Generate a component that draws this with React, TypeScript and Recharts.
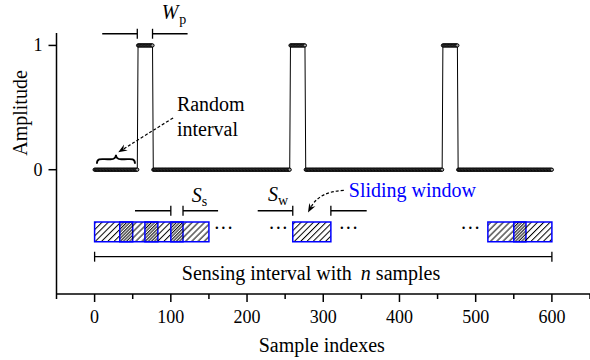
import React from "react";
import {
  LineChart, Line, XAxis, YAxis, ReferenceLine, ReferenceArea, ReferenceDot,
} from "recharts";

const FONT = '"Liberation Serif", "Times New Roman", "DejaVu Serif", serif';
const BLUE = "#0000ff";

// signal: 601 samples, three unit pulses of 20 samples
const sampleCount = 601;
const pulseStarts = [57, 257, 457];
const pulseWidth = 20;

const xTicks = [-50, 0, 50, 100, 150, 200, 250, 300, 350, 400, 450, 500, 550, 600, 650];
const yTicks = [0, 1];

// sliding windows [from, to], in samples
const windowStarts = [0, 33, 66, 100, 260, 516, 550];
const windowEnds = [50, 83, 116, 150, 310, 566, 600];
const windowTop = -0.42;
const windowBottom = -0.58;

// "..." between windows
const ellipsisAt = [169, 241, 333, 493];

const data = Array.from({ length: sampleCount }, (_, i) => ({
  i,
  amp: pulseStarts.some((s) => i >= s && i < s + pulseWidth) ? 1 : 0,
}));

const txtStyle = (size: number) => ({ fontFamily: FONT, fontSize: size });

const XTick = (props: any) => {
  const { x, y, payload } = props;
  const v = payload.value;
  const major = v % 100 === 0;
  return (
    <g>
      <line x1={x} x2={x} y1={y} y2={y + (major ? 8 : 5)} stroke="#000" strokeWidth={1.5} />
      {major && v >= 0 && v <= 600 && (
        <text x={x} y={y + 29} textAnchor="middle" style={txtStyle(18)} fill="#000">
          {v}
        </text>
      )}
    </g>
  );
};

const YTick = (props: any) => {
  const { x, y, payload } = props;
  return (
    <g>
      <line x1={x - 8} x2={x} y1={y} y2={y} stroke="#000" strokeWidth={1.5} />
      <text x={x - 14} y={y + 6} textAnchor="end" style={txtStyle(18)} fill="#000">
        {payload.value}
      </text>
    </g>
  );
};

// dashed arrow, bent by "bend" px to one side
const arrowShape = (bend: number) => (p: any) => {
  const { x1, y1, x2, y2 } = p;
  const dx = x2 - x1, dy = y2 - y1;
  const len = Math.hypot(dx, dy);
  const cx = (x1 + x2) / 2 + (-dy / len) * bend;
  const cy = (y1 + y2) / 2 + (dx / len) * bend;
  let tx = x2 - cx, ty = y2 - cy;
  const tl = Math.hypot(tx, ty);
  tx /= tl; ty /= tl;
  const hl = 9, hw = 3.5;
  const bx = x2 - tx * hl, by = y2 - ty * hl;
  const pts = `${x2},${y2} ${bx - ty * hw},${by + tx * hw} ${bx + tx * 3},${by + ty * 3} ${bx + ty * hw},${by - tx * hw}`;
  return (
    <g>
      <path d={`M${x1},${y1} Q${cx},${cy} ${bx + tx * 3},${by + ty * 3}`} fill="none" stroke="#000" strokeWidth={1.2} strokeDasharray="3 2" />
      <polygon points={pts} fill="#000" />
    </g>
  );
};

const braceShape = (p: any) => {
  const { x1, y1, x2 } = p;
  const h = 9;
  const m = (x1 + x2) / 2;
  const q = (x2 - x1) * 0.14;
  const d = `M${x1},${y1} C${x1},${y1 - h * 0.7} ${x1 + q},${y1 - h / 2} ${x1 + 2 * q},${y1 - h / 2} L${m - q},${y1 - h / 2} Q${m},${y1 - h / 2} ${m},${y1 - h} Q${m},${y1 - h / 2} ${m + q},${y1 - h / 2} L${x2 - 2 * q},${y1 - h / 2} C${x2 - q},${y1 - h / 2} ${x2},${y1 - h * 0.7} ${x2},${y1}`;
  return <path d={d} fill="none" stroke="#000" strokeWidth={1.8} />;
};

function textAt(key: string, x: number, y: number, children: React.ReactNode, extra: any = {}) {
  return (
    <ReferenceDot
      key={key}
      x={x}
      y={y}
      r={0}
      ifOverflow="visible"
      shape={(p: any) => (
        <text x={p.cx} y={p.cy} style={txtStyle(20)} fill="#000" {...extra}>
          {children}
        </text>
      )}
    />
  );
}

function seg(key: string, xa: number, ya: number, xb: number, yb: number, color = "#000") {
  return (
    <ReferenceLine
      key={key}
      segment={[{ x: xa, y: ya }, { x: xb, y: yb }]}
      stroke={color}
      strokeWidth={1.3}
      ifOverflow="visible"
    />
  );
}

// dimension marker: two arms pointing at a gap, with end ticks
function dimension(key: string, y: number, l0: number, l1: number, r0: number, r1: number) {
  const t = 0.04;
  return [
    seg(key + "a", l0, y, l1, y),
    seg(key + "b", l1, y - t, l1, y + t),
    seg(key + "c", r0, y, r1, y),
    seg(key + "d", r0, y - t, r0, y + t),
  ];
}

export default function App() {
  return (
    <div style={{ position: "absolute", left: 0, top: 0, width: 590, height: 360, background: "#fff", fontFamily: FONT }}>
      <svg width={0} height={0} style={{ position: "absolute" }}>
        <defs>
          <pattern id="hatchA" patternUnits="userSpaceOnUse" width={4.4} height={4.4} patternTransform="rotate(45)">
            <line x1={0.5} y1={0} x2={0.5} y2={4.4} stroke="#000" strokeWidth={1} />
          </pattern>
          <pattern id="hatchB" patternUnits="userSpaceOnUse" width={4.4} height={4.4} patternTransform="rotate(45)">
            <line x1={2.7} y1={0} x2={2.7} y2={4.4} stroke="#000" strokeWidth={1} />
          </pattern>
        </defs>
      </svg>
      <LineChart width={590} height={360} data={data} margin={{ top: 33, right: 0, bottom: 0, left: 0 }}>
        <XAxis
          dataKey="i"
          type="number"
          domain={[-50, 650]}
          ticks={xTicks}
          interval={0}
          height={66}
          tickSize={0}
          tickMargin={0}
          tickLine={false}
          tick={<XTick />}
          axisLine={{ stroke: "#000", strokeWidth: 1.5 }}
          allowDataOverflow
          label={{
            content: (p: any) => {
              const vb = p.viewBox;
              return (
                <text x={vb.x + vb.width / 2 - 1.5} y={vb.y + 57.5} textAnchor="middle" style={txtStyle(20)} fill="#000">
                  Sample indexes
                </text>
              );
            },
          }}
        />
        <YAxis
          type="number"
          domain={[-1, 1.1]}
          ticks={yTicks}
          interval={0}
          width={56.5}
          tickSize={0}
          tickMargin={0}
          tickLine={false}
          tick={<YTick />}
          axisLine={{ stroke: "#000", strokeWidth: 1.5 }}
          allowDataOverflow
          label={{
            content: (p: any) => {
              const vb = p.viewBox;
              const cx = vb.x + 26.5;
              const cy = 113;
              return (
                <text x={cx} y={cy} textAnchor="middle" transform={`rotate(-90, ${cx}, ${cy})`} style={txtStyle(20)} fill="#000">
                  Amplitude
                </text>
              );
            },
          }}
        />
        <Line
          type="linear"
          dataKey="amp"
          stroke="#000"
          strokeWidth={1}
          dot={{ r: 1.6, fill: "#aaa", stroke: "#000", strokeWidth: 1 }}
          activeDot={false}
          isAnimationActive={false}
        />

        {windowStarts.map((s, k) => (
          <ReferenceArea
            key={"w" + k}
            x1={s}
            x2={windowEnds[k]}
            y1={windowBottom}
            y2={windowTop}
            fill={k % 2 === 0 ? "url(#hatchA)" : "url(#hatchB)"}
            fillOpacity={1}
            stroke={BLUE}
            strokeWidth={1.5}
            ifOverflow="visible"
          />
        ))}

        {dimension("wp", 1.094, 10, 56, 76, 122)}
        {dimension("ss", -0.33, 53, 100, 116, 162)}
        {dimension("sw", -0.33, 214, 260, 310, 357)}

        {seg("sens", 0, -0.7, 600, -0.7)}
        {seg("sensL", 0, -0.74, 0, -0.66)}
        {seg("sensR", 600, -0.74, 600, -0.66)}

        <ReferenceLine segment={[{ x: 3, y: 0.048 }, { x: 53, y: 0.048 }]} ifOverflow="visible" shape={braceShape} />
        <ReferenceLine segment={[{ x: 103, y: 0.417 }, { x: 31, y: 0.14 }]} ifOverflow="visible" shape={arrowShape(0)} />
        <ReferenceLine segment={[{ x: 327, y: -0.167 }, { x: 280, y: -0.344 }]} ifOverflow="visible" shape={arrowShape(12)} />

        {textAt("rnd", 108, 0.47, "Random")}
        {textAt("int", 108, 0.275, "interval")}
        {textAt("wp", 88, 1.21, [
          <tspan key="a" fontStyle="italic">W</tspan>,
          <tspan key="b" fontSize={14} dx={1} dy={5}>p</tspan>,
        ])}
        {textAt("ss", 127.5, -0.258, [
          <tspan key="a" fontStyle="italic">S</tspan>,
          <tspan key="b" fontSize={14} dy={4}>s</tspan>,
        ])}
        {textAt("sw", 227.5, -0.25, [
          <tspan key="a" fontStyle="italic">S</tspan>,
          <tspan key="b" fontSize={14} dy={4}>w</tspan>,
        ])}
        {textAt("slide", 333.5, -0.218, "Sliding window", { fill: BLUE })}
        {textAt("sens", 114.5, -0.887, [
          <tspan key="a">Sensing interval with</tspan>,
          <tspan key="b" dx={9} fontStyle="italic">n</tspan>,
          <tspan key="c" dx={5}>samples</tspan>,
        ])}
        {ellipsisAt.map((x, k) =>
          textAt("el" + k, x, -0.524, "\u00b7\u00b7\u00b7", { textAnchor: "middle" })
        )}
      </LineChart>
    </div>
  );
}
